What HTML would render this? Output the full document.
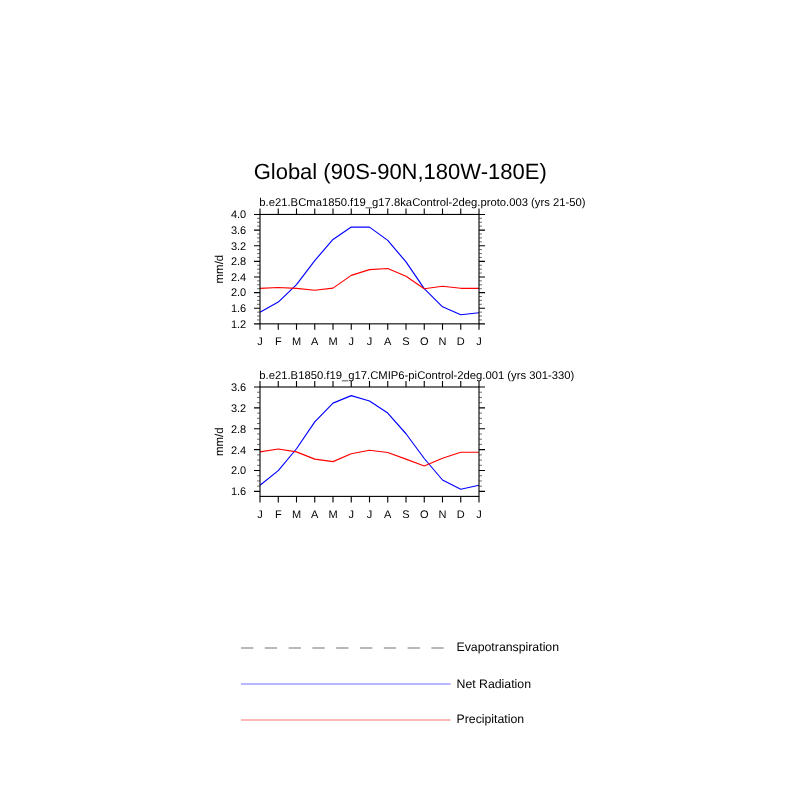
<!DOCTYPE html>
<html><head><meta charset="utf-8"><title>Global (90S-90N,180W-180E)</title>
<style>
html,body{margin:0;padding:0;background:#fff;}
svg{display:block;}
text{font-family:"Liberation Sans",sans-serif;fill:#000;text-rendering:geometricPrecision;}
</style></head><body>
<svg width="800" height="800" viewBox="0 0 800 800">
<rect width="800" height="800" fill="#fff"/>
<text x="400.2" y="179.2" font-size="22" text-anchor="middle">Global (90S-90N,180W-180E)</text>
<polyline points="260.00,312.25 278.25,302.10 296.50,284.60 314.75,260.60 333.00,239.40 351.25,227.10 369.50,227.10 387.75,240.40 406.00,261.90 424.25,288.60 442.50,306.80 460.75,314.70 479.00,312.80" fill="none" stroke="#0000ff" stroke-width="1.15" stroke-linejoin="round"/>
<polyline points="260.00,288.40 278.25,287.50 296.50,288.40 314.75,290.25 333.00,288.10 351.25,275.40 369.50,269.60 387.75,268.50 406.00,276.25 424.25,288.70 442.50,286.30 460.75,288.30 479.00,288.30" fill="none" stroke="#ff0000" stroke-width="1.15" stroke-linejoin="round"/>
<rect x="260.0" y="214.45" width="219.00" height="109.40" fill="none" stroke="#000" stroke-width="1.1"/>
<path d="M260.00 214.45 v-6 M260.00 323.85 v6 M278.25 214.45 v-6 M278.25 323.85 v6 M296.50 214.45 v-6 M296.50 323.85 v6 M314.75 214.45 v-6 M314.75 323.85 v6 M333.00 214.45 v-6 M333.00 323.85 v6 M351.25 214.45 v-6 M351.25 323.85 v6 M369.50 214.45 v-6 M369.50 323.85 v6 M387.75 214.45 v-6 M387.75 323.85 v6 M406.00 214.45 v-6 M406.00 323.85 v6 M424.25 214.45 v-6 M424.25 323.85 v6 M442.50 214.45 v-6 M442.50 323.85 v6 M460.75 214.45 v-6 M460.75 323.85 v6 M479.00 214.45 v-6 M479.00 323.85 v6 M260.0 214.45 h-6 M479.0 214.45 h6 M260.0 230.08 h-6 M479.0 230.08 h6 M260.0 245.71 h-6 M479.0 245.71 h6 M260.0 261.34 h-6 M479.0 261.34 h6 M260.0 276.96 h-6 M479.0 276.96 h6 M260.0 292.59 h-6 M479.0 292.59 h6 M260.0 308.22 h-6 M479.0 308.22 h6 M260.0 323.85 h-6 M479.0 323.85 h6" fill="none" stroke="#000" stroke-width="1.1"/>
<path d="M260.0 218.36 h-3 M479.0 218.36 h3 M260.0 222.26 h-3 M479.0 222.26 h3 M260.0 226.17 h-3 M479.0 226.17 h3 M260.0 233.99 h-3 M479.0 233.99 h3 M260.0 237.89 h-3 M479.0 237.89 h3 M260.0 241.80 h-3 M479.0 241.80 h3 M260.0 249.61 h-3 M479.0 249.61 h3 M260.0 253.52 h-3 M479.0 253.52 h3 M260.0 257.43 h-3 M479.0 257.43 h3 M260.0 265.24 h-3 M479.0 265.24 h3 M260.0 269.15 h-3 M479.0 269.15 h3 M260.0 273.06 h-3 M479.0 273.06 h3 M260.0 280.87 h-3 M479.0 280.87 h3 M260.0 284.78 h-3 M479.0 284.78 h3 M260.0 288.69 h-3 M479.0 288.69 h3 M260.0 296.50 h-3 M479.0 296.50 h3 M260.0 300.41 h-3 M479.0 300.41 h3 M260.0 304.31 h-3 M479.0 304.31 h3 M260.0 312.13 h-3 M479.0 312.13 h3 M260.0 316.04 h-3 M479.0 316.04 h3 M260.0 319.94 h-3 M479.0 319.94 h3" fill="none" stroke="#000" stroke-width="0.56"/>
<text x="246.2" y="218.35" font-size="11" text-anchor="end">4.0</text>
<text x="246.2" y="233.98" font-size="11" text-anchor="end">3.6</text>
<text x="246.2" y="249.61" font-size="11" text-anchor="end">3.2</text>
<text x="246.2" y="265.24" font-size="11" text-anchor="end">2.8</text>
<text x="246.2" y="280.86" font-size="11" text-anchor="end">2.4</text>
<text x="246.2" y="296.49" font-size="11" text-anchor="end">2.0</text>
<text x="246.2" y="312.12" font-size="11" text-anchor="end">1.6</text>
<text x="246.2" y="327.75" font-size="11" text-anchor="end">1.2</text>
<text x="260.00" y="345.05" font-size="11" text-anchor="middle">J</text>
<text x="278.25" y="345.05" font-size="11" text-anchor="middle">F</text>
<text x="296.50" y="345.05" font-size="11" text-anchor="middle">M</text>
<text x="314.75" y="345.05" font-size="11" text-anchor="middle">A</text>
<text x="333.00" y="345.05" font-size="11" text-anchor="middle">M</text>
<text x="351.25" y="345.05" font-size="11" text-anchor="middle">J</text>
<text x="369.50" y="345.05" font-size="11" text-anchor="middle">J</text>
<text x="387.75" y="345.05" font-size="11" text-anchor="middle">A</text>
<text x="406.00" y="345.05" font-size="11" text-anchor="middle">S</text>
<text x="424.25" y="345.05" font-size="11" text-anchor="middle">O</text>
<text x="442.50" y="345.05" font-size="11" text-anchor="middle">N</text>
<text x="460.75" y="345.05" font-size="11" text-anchor="middle">D</text>
<text x="479.00" y="345.05" font-size="11" text-anchor="middle">J</text>
<text x="259.3" y="206.00" font-size="11.28">b.e21.BCma1850.f19_g17.8kaControl-2deg.proto.003 (yrs 21-50)</text>
<text transform="translate(223.3 269.15) rotate(-90)" font-size="11.5" text-anchor="middle">mm/d</text>
<polyline points="260.00,485.25 278.25,470.60 296.50,448.75 314.75,421.90 333.00,403.10 351.25,395.60 369.50,401.00 387.75,413.10 406.00,433.75 424.25,458.50 442.50,480.00 460.75,489.20 479.00,485.20" fill="none" stroke="#0000ff" stroke-width="1.15" stroke-linejoin="round"/>
<polyline points="260.00,451.90 278.25,449.00 296.50,451.90 314.75,459.10 333.00,461.60 351.25,453.75 369.50,450.25 387.75,452.50 406.00,459.10 424.25,466.00 442.50,458.20 460.75,452.30 479.00,452.20" fill="none" stroke="#ff0000" stroke-width="1.15" stroke-linejoin="round"/>
<rect x="260.0" y="387.0" width="219.00" height="109.40" fill="none" stroke="#000" stroke-width="1.1"/>
<path d="M260.00 387.0 v-6 M260.00 496.4 v6 M278.25 387.0 v-6 M278.25 496.4 v6 M296.50 387.0 v-6 M296.50 496.4 v6 M314.75 387.0 v-6 M314.75 496.4 v6 M333.00 387.0 v-6 M333.00 496.4 v6 M351.25 387.0 v-6 M351.25 496.4 v6 M369.50 387.0 v-6 M369.50 496.4 v6 M387.75 387.0 v-6 M387.75 496.4 v6 M406.00 387.0 v-6 M406.00 496.4 v6 M424.25 387.0 v-6 M424.25 496.4 v6 M442.50 387.0 v-6 M442.50 496.4 v6 M460.75 387.0 v-6 M460.75 496.4 v6 M479.00 387.0 v-6 M479.00 496.4 v6 M260.0 387.00 h-6 M479.0 387.00 h6 M260.0 407.88 h-6 M479.0 407.88 h6 M260.0 428.76 h-6 M479.0 428.76 h6 M260.0 449.64 h-6 M479.0 449.64 h6 M260.0 470.52 h-6 M479.0 470.52 h6 M260.0 491.40 h-6 M479.0 491.40 h6" fill="none" stroke="#000" stroke-width="1.1"/>
<path d="M260.0 392.22 h-3 M479.0 392.22 h3 M260.0 397.44 h-3 M479.0 397.44 h3 M260.0 402.66 h-3 M479.0 402.66 h3 M260.0 413.10 h-3 M479.0 413.10 h3 M260.0 418.32 h-3 M479.0 418.32 h3 M260.0 423.54 h-3 M479.0 423.54 h3 M260.0 433.98 h-3 M479.0 433.98 h3 M260.0 439.20 h-3 M479.0 439.20 h3 M260.0 444.42 h-3 M479.0 444.42 h3 M260.0 454.86 h-3 M479.0 454.86 h3 M260.0 460.08 h-3 M479.0 460.08 h3 M260.0 465.30 h-3 M479.0 465.30 h3 M260.0 475.74 h-3 M479.0 475.74 h3 M260.0 480.96 h-3 M479.0 480.96 h3 M260.0 486.18 h-3 M479.0 486.18 h3" fill="none" stroke="#000" stroke-width="0.56"/>
<text x="246.2" y="390.90" font-size="11" text-anchor="end">3.6</text>
<text x="246.2" y="411.78" font-size="11" text-anchor="end">3.2</text>
<text x="246.2" y="432.66" font-size="11" text-anchor="end">2.8</text>
<text x="246.2" y="453.54" font-size="11" text-anchor="end">2.4</text>
<text x="246.2" y="474.42" font-size="11" text-anchor="end">2.0</text>
<text x="246.2" y="495.30" font-size="11" text-anchor="end">1.6</text>
<text x="260.00" y="517.60" font-size="11" text-anchor="middle">J</text>
<text x="278.25" y="517.60" font-size="11" text-anchor="middle">F</text>
<text x="296.50" y="517.60" font-size="11" text-anchor="middle">M</text>
<text x="314.75" y="517.60" font-size="11" text-anchor="middle">A</text>
<text x="333.00" y="517.60" font-size="11" text-anchor="middle">M</text>
<text x="351.25" y="517.60" font-size="11" text-anchor="middle">J</text>
<text x="369.50" y="517.60" font-size="11" text-anchor="middle">J</text>
<text x="387.75" y="517.60" font-size="11" text-anchor="middle">A</text>
<text x="406.00" y="517.60" font-size="11" text-anchor="middle">S</text>
<text x="424.25" y="517.60" font-size="11" text-anchor="middle">O</text>
<text x="442.50" y="517.60" font-size="11" text-anchor="middle">N</text>
<text x="460.75" y="517.60" font-size="11" text-anchor="middle">D</text>
<text x="479.00" y="517.60" font-size="11" text-anchor="middle">J</text>
<text x="259.3" y="378.90" font-size="11.28">b.e21.B1850.f19_g17.CMIP6-piControl-2deg.001 (yrs 301-330)</text>
<text transform="translate(223.3 441.70) rotate(-90)" font-size="11.5" text-anchor="middle">mm/d</text>
<line x1="241.0" y1="648" x2="450.6" y2="648" stroke="#000" stroke-width="0.56" stroke-dasharray="12.3 11.5"/>
<line x1="241.0" y1="684" x2="450.6" y2="684" stroke="#0000ff" stroke-width="0.56"/>
<line x1="241.0" y1="720" x2="450.6" y2="720" stroke="#ff0000" stroke-width="0.56"/>
<text x="456.5" y="651" font-size="12.3">Evapotranspiration</text>
<text x="456.5" y="688.4" font-size="12.3">Net Radiation</text>
<text x="456.5" y="722.8" font-size="12.3">Precipitation</text>
</svg>
</body></html>
